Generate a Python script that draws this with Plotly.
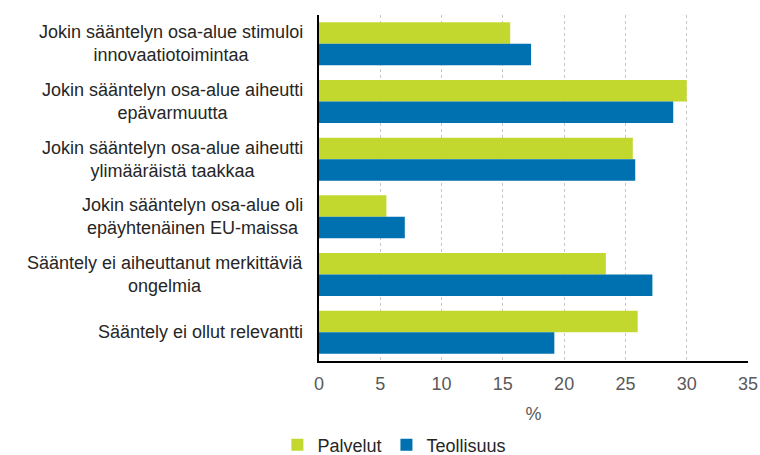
import plotly.graph_objects as go

categories = [
    "Jokin sääntelyn osa-alue stimuloi<br>innovaatiotoimintaa",
    "Jokin sääntelyn osa-alue aiheutti<br>epävarmuutta",
    "Jokin sääntelyn osa-alue aiheutti<br>ylimääräistä taakkaa",
    "Jokin sääntelyn osa-alue oli<br>epäyhtenäinen EU-maissa",
    "Sääntely ei aiheuttanut merkittäviä<br>ongelmia",
    "Sääntely ei ollut relevantti",
]
palvelut = [15.6, 30.0, 25.6, 5.5, 23.4, 26.0]
teollisuus = [17.3, 28.9, 25.8, 7.0, 27.2, 19.2]
x_ticks = [0, 5, 10, 15, 20, 25, 30, 35]

GREEN = "#c3d82f"
BLUE = "#0071b0"
FONT = "Liberation Sans, Arial, sans-serif"

fig = go.Figure()
fig.add_trace(go.Bar(y=categories, x=palvelut, name="Palvelut", orientation="h",
                     marker=dict(color=GREEN, line=dict(width=0))))
fig.add_trace(go.Bar(y=categories, x=teollisuus, name="Teollisuus", orientation="h",
                     marker=dict(color=BLUE, line=dict(width=0))))

for c in categories:
    fig.add_annotation(text=c, x=-0.033, xref="paper", y=c, yref="y",
                       xanchor="right", yanchor="middle", align="center",
                       showarrow=False, font=dict(family=FONT, size=18, color="#262626"))

fig.update_layout(
    width=760, height=455,
    margin=dict(l=319, r=12, t=15, b=94, autoexpand=False),
    paper_bgcolor="white", plot_bgcolor="white",
    barmode="group", bargap=0.255, bargroupgap=0,
    font=dict(family=FONT, size=18, color="#595959"),
    showlegend=True,
    legend=dict(orientation="h", x=-0.097, xanchor="left", y=-0.243, yanchor="middle",
                font=dict(family=FONT, size=18, color="#262626"),
                itemwidth=30, traceorder="normal"),
    xaxis=dict(range=[0, 35], tickvals=x_ticks, showgrid=True, gridcolor="#c8c8c8",
               griddash="dot", gridwidth=1, zeroline=False, showline=True,
               linecolor="black", linewidth=1.5, ticks="", ticklabelstandoff=6,
               tickfont=dict(family=FONT, size=18, color="#595959"),
               title=dict(text="%", font=dict(family=FONT, size=18, color="#595959"), standoff=14)),
    yaxis=dict(autorange="reversed", showticklabels=False, showline=True,
               linecolor="black", linewidth=1.5, showgrid=False, ticks=""),
)

fig.write_html("out.html", config={"displayModeBar": False})
with open("out.html", encoding="utf-8") as f:
    html = f.read()
html = html.replace("<body>", '<body style="margin:0;padding:0;overflow:hidden">', 1)
with open("out.html", "w", encoding="utf-8") as f:
    f.write(html)
